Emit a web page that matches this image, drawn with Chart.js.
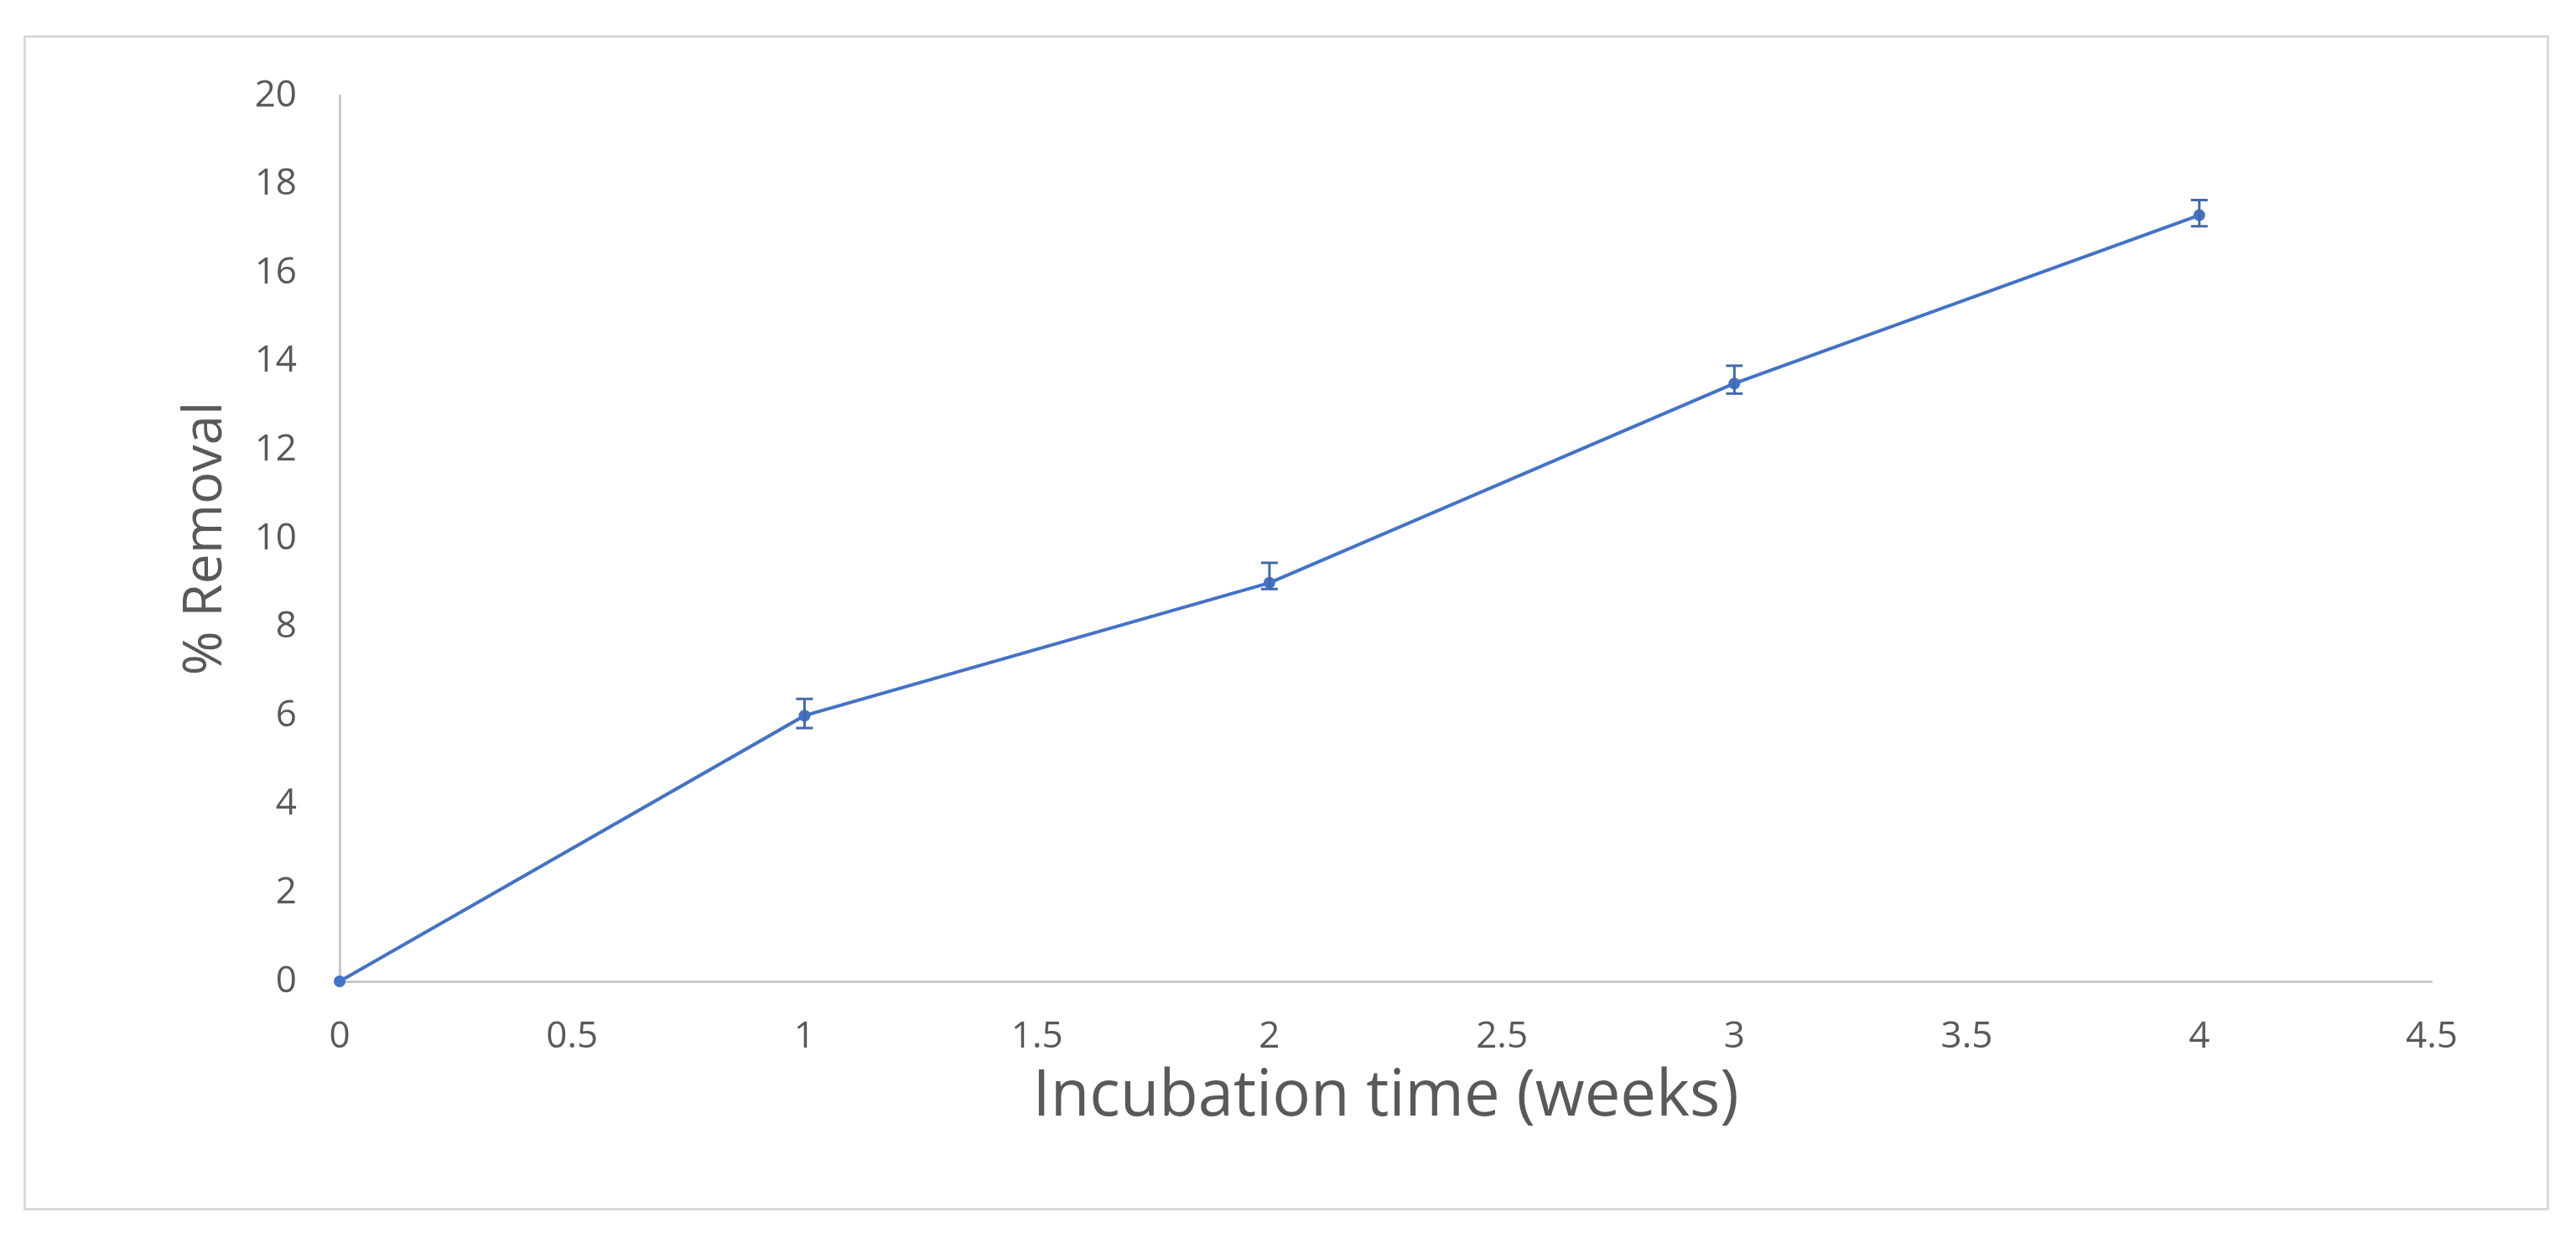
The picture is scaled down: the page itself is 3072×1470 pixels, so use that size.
<!DOCTYPE html>
<html>
<head>
<meta charset="utf-8">
<script src="https://cdn.jsdelivr.net/npm/chart.js@4"></script>
<style>
  html, body { margin: 0; padding: 0; background: #ffffff; }
  #wrap { position: relative; width: 3072px; height: 1470px; }
  #frame { position: absolute; left: 28px; top: 42px; width: 3012px; height: 1401px; border: 3px solid #d9d9d9; box-sizing: border-box; }
  canvas { position: absolute; left: 0; top: 0; }
</style>
</head>
<body>
<div id="wrap">
  <div id="frame"></div>
  <canvas id="c" width="3072" height="1470"></canvas>
</div>
<script>
// Data
const weeks = [0, 1, 2, 3, 4];
const removal = [0, 6.0, 9.0, 13.5, 17.3];
const errPlus = [0, 0.38, 0.45, 0.40, 0.34];
const errMinus = [0, 0.28, 0.14, 0.23, 0.25];

const xTitle = 'Incubation time (weeks)';
const yTitle = '% Removal';

const points = weeks.map((w, i) => ({ x: w, y: removal[i] }));

const errorBars = {
  id: 'errorBars',
  afterDatasetsDraw(chart) {
    const { ctx, scales } = chart;
    const xs = scales.x, ys = scales.y;
    ctx.save();
    ctx.strokeStyle = '#4468a8';
    ctx.lineWidth = 3;
    const cap = 10;
    weeks.forEach((w, i) => {
      if (!errPlus[i] && !errMinus[i]) return;
      const px = xs.getPixelForValue(w);
      const top = ys.getPixelForValue(removal[i] + errPlus[i]);
      const bot = ys.getPixelForValue(removal[i] - errMinus[i]);
      ctx.beginPath();
      ctx.moveTo(px, top); ctx.lineTo(px, bot);
      ctx.moveTo(px - cap, top); ctx.lineTo(px + cap, top);
      ctx.moveTo(px - cap, bot); ctx.lineTo(px + cap, bot);
      ctx.stroke();
    });
    ctx.restore();
  }
};

new Chart(document.getElementById('c'), {
  type: 'scatter',
  data: {
    datasets: [{
      data: points,
      showLine: true,
      clip: false,
      borderColor: '#4472C4',
      backgroundColor: '#4472C4',
      borderWidth: 4,
      pointRadius: 7,
      pointBorderWidth: 0,
      pointHoverRadius: 7,
      tension: 0
    }]
  },
  options: {
    responsive: false,
    animation: false,
    devicePixelRatio: 1,
    layout: { padding: { left: 0, top: 114, right: 172, bottom: 0 } },
    plugins: { legend: { display: false }, tooltip: { enabled: false } },
    scales: {
      x: {
        type: 'linear',
        min: 0, max: 4.5,
        grid: { display: false, drawTicks: false },
        border: { display: true, color: '#c8c8c8', width: 3 },
        ticks: { stepSize: 0.5, color: '#595959', padding: 40, font: { family: 'Open Sans', size: 44 },
                 callback: (v) => String(Math.round(v * 10) / 10) },
        title: { display: true, text: xTitle, color: '#595959', font: { family: 'Open Sans', size: 76 }, padding: { top: 0, bottom: 116 } },
        afterFit(scale) { scale.height = 300; }
      },
      y: {
        type: 'linear',
        min: 0, max: 20,
        grid: { display: false, drawTicks: false },
        border: { display: true, color: '#c8c8c8', width: 3 },
        ticks: { stepSize: 2, color: '#595959', padding: 51, font: { family: 'Open Sans', size: 44 } },
        title: { display: true, text: yTitle, color: '#595959', font: { family: 'Open Sans', size: 64 }, padding: { top: 207, bottom: 0 } },
        afterFit(scale) { scale.width = 405; }
      }
    }
  },
  plugins: [errorBars]
});
</script>
</body>
</html>
